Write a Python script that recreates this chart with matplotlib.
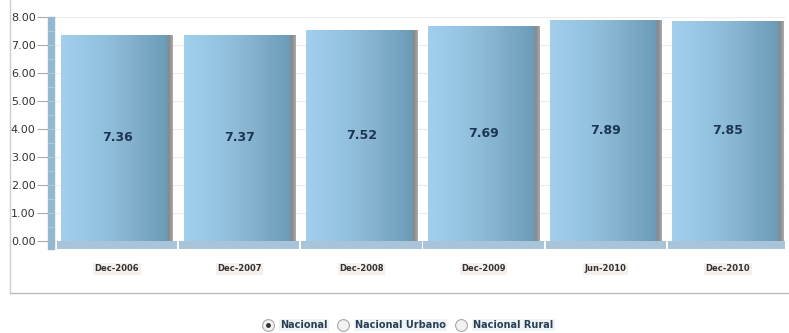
import numpy as np
import matplotlib
matplotlib.use("Agg")
import matplotlib.pyplot as plt
from matplotlib.colors import LinearSegmentedColormap
from matplotlib.patches import Rectangle
from matplotlib.lines import Line2D
import matplotlib.transforms as mtransforms

categories = ["Dec-2006", "Dec-2007", "Dec-2008", "Dec-2009", "Jun-2010", "Dec-2010"]
values = [7.36, 7.37, 7.52, 7.69, 7.89, 7.85]
yticks = [0, 1, 2, 3, 4, 5, 6, 7, 8]
legend_labels = ["Nacional", "Nacional Urbano", "Nacional Rural"]

W, H = 789, 333
fig = plt.figure(figsize=(W / 100, H / 100), dpi=100)
fig.patch.set_facecolor("white")

ax_l, ax_r, ax_t, ax_b = 48, 785, 17, 249
ax = fig.add_axes([ax_l / W, 1 - ax_b / H, (ax_r - ax_l) / W, (ax_b - ax_t) / H])
ax.set_facecolor("white")

x = np.arange(len(categories))
ax.set_xlim(-0.565, 5.466)
ax.set_ylim(-0.3, 8.0)

# gridlines
for v in yticks:
    ax.axhline(v, color="#ececec", lw=0.8, zorder=0)

# floor strips
ax.bar(x, [0.3] * len(x), bottom=-0.3, width=0.985, color="#a9c4d8", zorder=1, linewidth=0)

bars = ax.bar(x, values, width=0.91, color="#8fbcd8", zorder=2, linewidth=0)

cmap = LinearSegmentedColormap.from_list(
    "barg",
    [(0.0, "#a2cfee"), (0.35, "#93c2e0"), (0.6, "#86b3cf"),
     (0.94, "#6c9cb8"), (0.965, "#85898e"), (1.0, "#a9a9a9")])
grad = np.linspace(0, 1, 256).reshape(1, -1)
for b in bars:
    x0, w, h = b.get_x(), b.get_width(), b.get_height()
    im = ax.imshow(grad, cmap=cmap, extent=[x0, x0 + w, 0, h], aspect="auto",
                   zorder=3, interpolation="bilinear")
    im.set_clip_path(b)
ax.set_xlim(-0.565, 5.466)
ax.set_ylim(-0.3, 8.0)

# value labels
for xi, v in zip(x, values):
    ax.text(xi, v / 2, f"{v:.2f}", ha="center", va="center", fontsize=9,
            fontweight="bold", color="#1c3553", zorder=5)

# left blue axis bar
trans = mtransforms.blended_transform_factory(ax.transAxes, ax.transData)
ax.add_patch(Rectangle((0, -0.3), 6 / (ax_r - ax_l), 8.3, transform=trans,
                       color="#93b8d0", zorder=4, clip_on=False))
for v in np.arange(0.5, 8.0, 0.5):
    ax.plot([0, 6 / (ax_r - ax_l)], [v, v], transform=trans, color="#b9d2e2",
            lw=0.5, zorder=4.5)

for s in ax.spines.values():
    s.set_visible(False)

ax.set_yticks(yticks)
ax.set_yticklabels([f"{v:.2f}" for v in yticks], fontsize=8, color="#333333")
ax.tick_params(axis="y", length=8, width=0.8, color="#aaaaaa", pad=1)
ax.set_xticks(x)
ax.set_xticklabels(categories, fontsize=6, fontweight="bold", color="#333333")
ax.tick_params(axis="x", length=0, pad=11)
for t in ax.get_xticklabels():
    t.set_bbox(dict(facecolor="#f6f0ec", edgecolor="none", pad=1))

# outer frame
fig.add_artist(Line2D([10 / W, 10 / W], [1 - 0 / H, 1 - 293 / H], color="#cccccc", lw=1))
fig.add_artist(Line2D([10 / W, 1], [1 - 293 / H, 1 - 293 / H], color="#bbbbbb", lw=1))

# radio legend
radio_x = [268, 343, 461]
ly = 1 - 325 / H
for i, (rx, lab) in enumerate(zip(radio_x, legend_labels)):
    fig.add_artist(Line2D([rx / W], [ly], marker="o", markersize=8.5,
                          markerfacecolor="#f2f2f2", markeredgecolor="#a8a8a8",
                          markeredgewidth=0.8, transform=fig.transFigure))
    if i == 0:
        fig.add_artist(Line2D([rx / W], [ly], marker="o", markersize=2.5,
                              markerfacecolor="#333333", markeredgecolor="#333333",
                              transform=fig.transFigure))
    fig.text((rx + 12) / W, ly, lab, fontsize=7, fontweight="bold", color="#2a3f55",
             ha="left", va="center",
             bbox=dict(facecolor="#eef3f6", edgecolor="none", pad=1))

fig.savefig("out.png", dpi=100)
